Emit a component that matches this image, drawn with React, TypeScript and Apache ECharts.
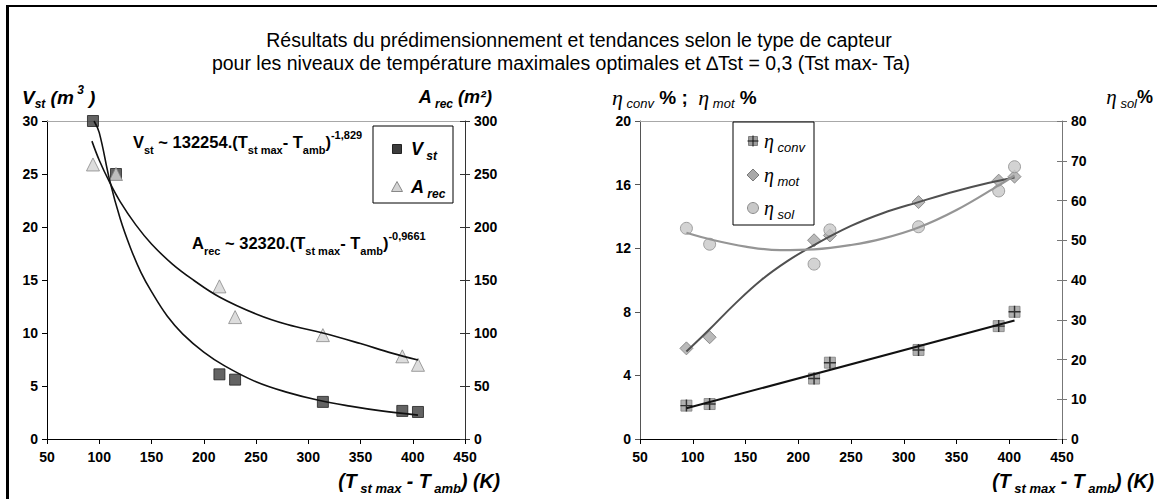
import React, { useEffect, useRef } from "react";
import * as echarts from "echarts";

// ---------- data ----------
const tempDiff = [94, 116, 215, 230, 314, 390, 405]; // (Tst max - Tamb) K
const vstValues = [30, 25, 6.1, 5.6, 3.5, 2.65, 2.55]; // m3
const arecValues = [259, 250, 144, 115, 98, 78, 70]; // m2
const etaConvValues = [2.1, 2.2, 3.8, 4.8, 5.6, 7.1, 8.0];
const etaMotValues = [5.7, 6.4, 12.5, 12.8, 14.9, 16.25, 16.5];
const etaSolValues = [53, 49, 44, 52.6, 53.4, 62.4, 68.5];

// trend curves
const vstFitX = [95, 100, 110, 120, 130, 140, 150, 165, 180, 200, 220, 250, 280, 310, 340, 370, 405];
const vstFitY = [30, 28.9, 24.4, 20.8, 18.0, 15.7, 13.9, 11.6, 9.9, 8.2, 6.9, 5.4, 4.4, 3.65, 3.1, 2.65, 2.25];
const arecFitX = [93, 100, 110, 120, 135, 150, 170, 190, 215, 250, 280, 314, 350, 380, 405];
const arecFitY = [281, 263, 242, 224, 202, 184, 165, 150, 134, 118, 108, 100, 90, 81, 74.5];
const convFitX = [94, 405];
const convFitY = [1.93, 7.45];
const motFitX = [94, 116, 140, 165, 190, 215, 250, 280, 314, 350, 380, 405];
const motFitY = [5.5, 6.9, 8.5, 10.0, 11.2, 12.2, 13.4, 14.2, 14.9, 15.6, 16.1, 16.45];
const solFitX = [94, 120, 150, 183, 215, 250, 280, 314, 350, 390, 405];
const solFitY = [51.9, 50.0, 48.4, 47.5, 47.7, 48.8, 50.4, 53.2, 57.6, 63.8, 66.3];

// axis ticks
const xTicks = { min: 50, max: 450, interval: 50 };
const vstTicks = { min: 0, max: 30, interval: 5 };
const arecTicks = { min: 0, max: 300, interval: 50 };
const etaTicks = { min: 0, max: 20, interval: 4 };
const solTicks = { min: 0, max: 80, interval: 10 };

const TITLE_1 = "Résultats du prédimensionnement et tendances selon le type de capteur";
const TITLE_2 = "pour les niveaux de température maximales optimales et ∆Tst = 0,3 (Tst max- Ta)";

const FONT = "'Liberation Sans', Arial, Helvetica, sans-serif";
const SERIF = "'Liberation Serif', 'Times New Roman', serif";

const pairs = (xs: number[], ys: number[]) => xs.map((x, i) => [x, ys[i]]);

const PLUS =
  "path://M4.4,0 L5.6,0 L5.6,4.4 L10,4.4 L10,5.6 L5.6,5.6 L5.6,10 L4.4,10 L4.4,5.6 L0,5.6 L0,4.4 L4.4,4.4 Z";

const richStyles = (main: number, sub: number, lh: number) => ({
  b: { fontFamily: FONT, fontWeight: "bold", fontStyle: "italic", fontSize: main, lineHeight: lh, color: "#000" },
  n: { fontFamily: FONT, fontWeight: "bold", fontSize: main, lineHeight: lh, color: "#000" },
  bs: { fontFamily: FONT, fontWeight: "bold", fontStyle: "italic", fontSize: sub, color: "#000", verticalAlign: "bottom" },
  bp: { fontFamily: FONT, fontWeight: "bold", fontStyle: "italic", fontSize: sub, color: "#000", verticalAlign: "top" },
  ns: { fontFamily: FONT, fontWeight: "bold", fontSize: sub, color: "#000", verticalAlign: "bottom" },
  np: { fontFamily: FONT, fontWeight: "bold", fontSize: sub, color: "#000", verticalAlign: "top" },
  e: { fontFamily: SERIF, fontStyle: "italic", fontSize: main + 3, lineHeight: lh, color: "#000" },
  is: { fontFamily: FONT, fontStyle: "italic", fontSize: sub, color: "#000", verticalAlign: "bottom" },
});

function xAxisBottom(grid: number, color: string) {
  return {
    type: "value",
    gridIndex: grid,
    position: "bottom",
    ...xTicks,
    axisLine: { show: true, onZero: false, lineStyle: { color, width: 1 } },
    axisTick: { show: true, inside: false, length: 5, lineStyle: { color } },
    axisLabel: { color: "#000", fontWeight: "bold", fontSize: 14, fontFamily: FONT, margin: 11 },
    splitLine: { show: false },
  };
}
function xAxisTop(grid: number) {
  return {
    type: "value",
    gridIndex: grid,
    position: "top",
    ...xTicks,
    axisLine: { show: true, onZero: false, lineStyle: { color: "#a8a8a8", width: 1 } },
    axisTick: { show: false },
    axisLabel: { show: false },
    splitLine: { show: false },
  };
}
function yAxis(grid: number, pos: string, ticks: any, color: string) {
  return {
    type: "value",
    gridIndex: grid,
    position: pos,
    ...ticks,
    axisLine: { show: true, onZero: false, lineStyle: { color, width: 1 } },
    axisTick: { show: true, inside: false, length: 5, lineStyle: { color } },
    axisLabel: { color: "#000", fontWeight: "bold", fontSize: 14, fontFamily: FONT, margin: 9 },
    splitLine: { show: false },
  };
}
// inner half of the crossing ticks on the right-hand axes
function yAxisInnerTicks(grid: number, ticks: any, color: string) {
  return {
    type: "value",
    gridIndex: grid,
    position: "right",
    ...ticks,
    axisLine: { show: false },
    axisTick: { show: true, inside: true, length: 5, lineStyle: { color } },
    axisLabel: { show: false },
    splitLine: { show: false },
  };
}

function fitLine(name: string, xi: number, yi: number, xs: number[], ys: number[], color: string, width: number) {
  return {
    name,
    type: "line",
    xAxisIndex: xi,
    yAxisIndex: yi,
    data: pairs(xs, ys),
    smooth: 0.4,
    showSymbol: false,
    symbol: "none",
    lineStyle: { color, width },
    z: 5,
    silent: true,
  };
}

const LX = 733; // right legend box left

function buildOption() {
  const graphic: any[] = [
    // frame
    { type: "line", shape: { x1: 6, y1: 6, x2: 1157, y2: 6 }, style: { stroke: "#000", lineWidth: 2 } },
    { type: "line", shape: { x1: 7.5, y1: 5, x2: 7.5, y2: 499 }, style: { stroke: "#000", lineWidth: 3 } },
    // title
    {
      type: "text",
      x: 579,
      y: 40,
      style: { text: TITLE_1, font: `19.5px ${FONT}`, fill: "#000", align: "center", verticalAlign: "middle" },
    },
    {
      type: "text",
      x: 561,
      y: 63,
      style: { text: TITLE_2, font: `19.5px ${FONT}`, fill: "#000", align: "center", verticalAlign: "middle" },
    },
    // axis names
    {
      type: "text",
      x: 22,
      y: 97,
      style: {
        text: "{b|V}{bs|st}{b| (m}{bp| 3}{b| )}",
        rich: richStyles(19, 12, 26),
        align: "left",
        verticalAlign: "middle",
      },
    },
    {
      type: "text",
      x: 492,
      y: 97,
      style: {
        text: "{b|A}{bs| rec}{b| (m²)}",
        rich: richStyles(18, 12, 26),
        align: "right",
        verticalAlign: "middle",
      },
    },
    {
      type: "text",
      x: 612,
      y: 97,
      style: {
        text: "{e|η}{is| conv}{n| % ;  }{e|η}{is| mot}{n| %}",
        rich: richStyles(19, 13, 26),
        align: "left",
        verticalAlign: "middle",
      },
    },
    {
      type: "text",
      x: 1153,
      y: 97,
      style: {
        text: "{e|η}{is| sol}{n|%}",
        rich: richStyles(18, 13, 26),
        align: "right",
        verticalAlign: "middle",
      },
    },
    {
      type: "text",
      x: 500,
      y: 481,
      style: {
        text: "{b|(T}{bs| st max}{b| - T}{bs| amb}{b|) (K)}",
        rich: richStyles(19.5, 13, 28),
        align: "right",
        verticalAlign: "middle",
      },
    },
    {
      type: "text",
      x: 1154,
      y: 481,
      style: {
        text: "{b|(T}{bs| st max}{b| - T}{bs| amb}{b|) (K)}",
        rich: richStyles(19.5, 13, 28),
        align: "right",
        verticalAlign: "middle",
      },
    },
    // equations
    {
      type: "text",
      x: 133,
      y: 142,
      z: 20,
      style: {
        text: "{n|V}{ns|st}{n| ~ 132254.(T}{ns|st max}{n|- T}{ns|amb}{n|)}{np|-1,829}",
        rich: richStyles(16.5, 11, 26),
        align: "left",
        verticalAlign: "middle",
      },
    },
    {
      type: "text",
      x: 192,
      y: 243,
      z: 20,
      style: {
        text: "{n|A}{ns|rec}{n| ~ 32320.(T}{ns|st max}{n|- T}{ns|amb}{n|)}{np|-0,9661}",
        rich: richStyles(16.5, 11, 26),
        align: "left",
        verticalAlign: "middle",
      },
    },
    // left legend
    { type: "rect", z: 20, shape: { x: 373, y: 126, width: 80, height: 77 }, style: { fill: "#fff", stroke: "#000", lineWidth: 1 } },
    { type: "rect", z: 21, shape: { x: 392.5, y: 144.5, width: 9, height: 9 }, style: { fill: "#3c3c3c", stroke: "#222", lineWidth: 1 } },
    {
      type: "polygon",
      z: 21,
      shape: { points: [[397, 181.5], [402.5, 191.5], [391.5, 191.5]] },
      style: { fill: "#d4d4d4", stroke: "#888", lineWidth: 1 },
    },
    {
      type: "text",
      z: 21,
      x: 411,
      y: 149,
      style: { text: "{b|V}{bs| st}", rich: richStyles(18, 12, 26), align: "left", verticalAlign: "middle" },
    },
    {
      type: "text",
      z: 21,
      x: 411,
      y: 187,
      style: { text: "{b|A}{bs| rec}", rich: richStyles(18, 12, 26), align: "left", verticalAlign: "middle" },
    },
    // right legend
    { type: "rect", z: 20, shape: { x: LX, y: 122, width: 81, height: 103 }, style: { fill: "#fff", stroke: "#000", lineWidth: 1 } },
    { type: "rect", z: 21, shape: { x: LX + 15.5, y: 136.5, width: 9, height: 9 }, style: { fill: "#9c9c9c", stroke: "#808080", lineWidth: 1 } },
    { type: "line", z: 22, shape: { x1: LX + 20, y1: 135.5, x2: LX + 20, y2: 146.5 }, style: { stroke: "#111", lineWidth: 1 } },
    { type: "line", z: 22, shape: { x1: LX + 14.5, y1: 141, x2: LX + 25.5, y2: 141 }, style: { stroke: "#111", lineWidth: 1 } },
    {
      type: "polygon",
      z: 21,
      shape: { points: [[LX + 20, 169], [LX + 26, 175], [LX + 20, 181], [LX + 14, 175]] },
      style: { fill: "#a8a8a8", stroke: "#7a7a7a", lineWidth: 1 },
    },
    { type: "circle", z: 21, shape: { cx: LX + 20, cy: 208, r: 5.5 }, style: { fill: "#c8c8c8", stroke: "#8c8c8c", lineWidth: 1 } },
    {
      type: "text",
      z: 21,
      x: LX + 31,
      y: 141,
      style: { text: "{e|η}{is| conv}", rich: richStyles(17, 13, 26), align: "left", verticalAlign: "middle" },
    },
    {
      type: "text",
      z: 21,
      x: LX + 31,
      y: 175,
      style: { text: "{e|η}{is| mot}", rich: richStyles(17, 13, 26), align: "left", verticalAlign: "middle" },
    },
    {
      type: "text",
      z: 21,
      x: LX + 31,
      y: 208,
      style: { text: "{e|η}{is| sol}", rich: richStyles(17, 13, 26), align: "left", verticalAlign: "middle" },
    },
  ];

  return {
    animation: false,
    backgroundColor: "#fff",
    grid: [
      { left: 47, top: 121, width: 418, height: 318 },
      { left: 640, top: 121, width: 422, height: 318 },
    ],
    xAxis: [xAxisBottom(0, "#000"), xAxisTop(0), xAxisBottom(1, "#000"), xAxisTop(1)],
    yAxis: [
      yAxis(0, "left", vstTicks, "#000"),
      yAxis(0, "right", arecTicks, "#333"),
      yAxis(1, "left", etaTicks, "#555"),
      yAxis(1, "right", solTicks, "#777"),
      yAxisInnerTicks(0, arecTicks, "#333"),
      yAxisInnerTicks(1, solTicks, "#777"),
    ],
    series: [
      {
        name: "Vst",
        type: "scatter",
        xAxisIndex: 0,
        yAxisIndex: 0,
        data: pairs(tempDiff, vstValues),
        symbol: "rect",
        symbolSize: 11,
        itemStyle: { color: "#3c3c3c", borderColor: "#222", borderWidth: 1 },
        z: 3,
      },
      {
        name: "Arec",
        type: "scatter",
        xAxisIndex: 0,
        yAxisIndex: 1,
        data: pairs(tempDiff, arecValues),
        symbol: "triangle",
        symbolSize: 13,
        itemStyle: { color: "#d4d4d4", borderColor: "#888", borderWidth: 1 },
        z: 4,
      },
      fitLine("Vst fit", 0, 0, vstFitX, vstFitY, "#111", 1.6),
      fitLine("Arec fit", 0, 1, arecFitX, arecFitY, "#111", 1.6),
      {
        name: "ηconv",
        type: "scatter",
        xAxisIndex: 2,
        yAxisIndex: 2,
        data: pairs(tempDiff, etaConvValues),
        symbol: "rect",
        symbolSize: 11,
        itemStyle: { color: "#9c9c9c", borderColor: "#808080", borderWidth: 1 },
        z: 3,
      },
      {
        name: "ηconv plus",
        type: "scatter",
        xAxisIndex: 2,
        yAxisIndex: 2,
        data: pairs(tempDiff, etaConvValues),
        symbol: PLUS,
        symbolSize: 12,
        itemStyle: { color: "#111" },
        z: 4,
      },
      {
        name: "ηmot",
        type: "scatter",
        xAxisIndex: 2,
        yAxisIndex: 2,
        data: pairs(tempDiff, etaMotValues),
        symbol: "diamond",
        symbolSize: 13,
        itemStyle: { color: "#a8a8a8", borderColor: "#7a7a7a", borderWidth: 1 },
        z: 3,
      },
      {
        name: "ηsol",
        type: "scatter",
        xAxisIndex: 2,
        yAxisIndex: 3,
        data: pairs(tempDiff, etaSolValues),
        symbol: "circle",
        symbolSize: 12,
        itemStyle: { color: "#c8c8c8", borderColor: "#8c8c8c", borderWidth: 1 },
        z: 3,
      },
      fitLine("ηconv fit", 2, 2, convFitX, convFitY, "#111", 2),
      fitLine("ηmot fit", 2, 2, motFitX, motFitY, "#505050", 2),
      fitLine("ηsol fit", 2, 3, solFitX, solFitY, "#959595", 2.2),
    ],
    graphic,
  };
}

export default function App() {
  const ref = useRef<HTMLDivElement>(null);
  useEffect(() => {
    if (!ref.current) return;
    const chart = echarts.init(ref.current, undefined, { renderer: "svg" });
    chart.setOption(buildOption() as any);
    return () => chart.dispose();
  }, []);
  return (
    <div
      ref={ref}
      style={{ position: "absolute", left: 0, top: 0, width: 1157, height: 499, background: "#fff" }}
    />
  );
}
